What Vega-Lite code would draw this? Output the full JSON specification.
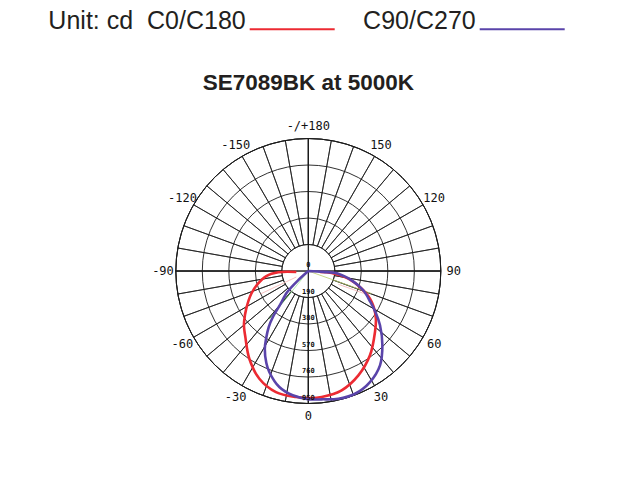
{
  "$schema": "https://vega.github.io/schema/vega-lite/v6.json",
  "autosize": {"type": "none"},
  "padding": {"left": 154.9, "top": 117.6, "right": 166.26, "bottom": 63.56},
  "width": 306.84,
  "height": 306.84,
  "background": "white",
  "title": {"text": "SE7089BK at 5000K", "font": "Liberation Sans", "fontSize": 22.5, "fontWeight": "bold", "color": "#231f20", "anchor": "middle", "baseline": "alphabetic", "offset": -127},
  "config": {"view": {"stroke": null}},
  "layer": [
    {
      "data": {"values": [{"r": 190}, {"r": 380}, {"r": 570}, {"r": 760}, {"r": 950}]},
      "mark": {"type": "arc", "filled": false, "stroke": "#1a1a1a", "strokeWidth": 0.9},
      "encoding": {
        "theta": {"datum": -180, "type": "quantitative", "scale": {"domain": [-180, 180], "reverse": true, "zero": false, "nice": false}},
        "theta2": {"datum": 180},
        "radius": {"field": "r", "type": "quantitative", "stack": null, "scale": {"type": "linear", "domain": [0, 1100], "range": [0, 153.42], "zero": true, "nice": false}}
      }
    },
    {
      "data": {"values": [
        {"a": -180, "b": -170}, {"a": -170, "b": -160}, {"a": -160, "b": -150}, {"a": -150, "b": -140}, {"a": -140, "b": -130}, {"a": -130, "b": -120},
        {"a": -120, "b": -110}, {"a": -110, "b": -100}, {"a": -100, "b": -90}, {"a": -90, "b": -80}, {"a": -80, "b": -70}, {"a": -70, "b": -60},
        {"a": -60, "b": -50}, {"a": -50, "b": -40}, {"a": -40, "b": -30}, {"a": -30, "b": -20}, {"a": -20, "b": -10}, {"a": -10, "b": 0},
        {"a": 0, "b": 10}, {"a": 10, "b": 20}, {"a": 20, "b": 30}, {"a": 30, "b": 40}, {"a": 40, "b": 50}, {"a": 50, "b": 60},
        {"a": 60, "b": 70}, {"a": 70, "b": 80}, {"a": 80, "b": 90}, {"a": 90, "b": 100}, {"a": 100, "b": 110}, {"a": 110, "b": 120},
        {"a": 120, "b": 130}, {"a": 130, "b": 140}, {"a": 140, "b": 150}, {"a": 150, "b": 160}, {"a": 160, "b": 170}, {"a": 170, "b": 180}
      ]},
      "mark": {"type": "arc", "filled": false, "stroke": "#1a1a1a", "strokeWidth": 0.8},
      "encoding": {
        "theta": {"field": "a", "type": "quantitative", "stack": null, "scale": {"domain": [-180, 180], "reverse": true, "zero": false, "nice": false}},
        "theta2": {"field": "b"},
        "radius": {"datum": 950, "type": "quantitative", "scale": {"type": "linear", "domain": [0, 1100], "range": [0, 153.42], "zero": true, "nice": false}},
        "radius2": {"datum": 190}
      }
    },
    {
      "data": {"values": [{"a": -180, "b": -90}, {"a": -90, "b": 0}, {"a": 0, "b": 90}, {"a": 90, "b": 180}]},
      "mark": {"type": "arc", "filled": false, "stroke": "#1a1a1a", "strokeWidth": 0.9},
      "encoding": {
        "theta": {"field": "a", "type": "quantitative", "stack": null, "scale": {"domain": [-180, 180], "reverse": true, "zero": false, "nice": false}},
        "theta2": {"field": "b"},
        "radius": {"datum": 950, "type": "quantitative", "scale": {"type": "linear", "domain": [0, 1100], "range": [0, 153.42], "zero": true, "nice": false}},
        "radius2": {"datum": 0}
      }
    },
    {
      "data": {"values": [{"h": -86, "v": 43, "h2": -344, "v2": 165}, {"h": 215, "v": 95, "h2": 430, "v2": 172}]},
      "mark": {"type": "rule", "stroke": "#f4b3b3", "strokeWidth": 0.8},
      "encoding": {
        "x": {"field": "h", "type": "quantitative", "scale": {"domain": [-1100, 1100], "zero": false, "nice": false}, "axis": null},
        "y": {"field": "v", "type": "quantitative", "scale": {"domain": [-1100, 1100], "zero": false, "nice": false, "reverse": true}, "axis": null},
        "x2": {"field": "h2"},
        "y2": {"field": "v2"}
      }
    },
    {
      "data": {"values": [{"h": 0, "v": 0, "h2": -122, "v2": 151}]},
      "mark": {"type": "rule", "stroke": "#9fe29a", "strokeWidth": 0.8},
      "encoding": {
        "x": {"field": "h", "type": "quantitative"},
        "y": {"field": "v", "type": "quantitative"},
        "x2": {"field": "h2"},
        "y2": {"field": "v2"}
      }
    },
    {
      "data": {"values": [{"h": -122, "v": 151, "h2": -280, "v2": 344}]},
      "mark": {"type": "rule", "stroke": "#2f8a34", "strokeWidth": 0.8},
      "encoding": {
        "x": {"field": "h", "type": "quantitative"},
        "y": {"field": "v", "type": "quantitative"},
        "x2": {"field": "h2"},
        "y2": {"field": "v2"}
      }
    },
    {
      "data": {"values": [{"h": 0, "v": 0, "h2": 452, "v2": 161}]},
      "mark": {"type": "rule", "stroke": "#bccd6a", "strokeWidth": 0.8},
      "encoding": {
        "x": {"field": "h", "type": "quantitative"},
        "y": {"field": "v", "type": "quantitative"},
        "x2": {"field": "h2"},
        "y2": {"field": "v2"}
      }
    },
    {
      "data": {"values": [
        {"plane": "C0/C180", "o": 1, "h": -86, "v": 7},
        {"plane": "C0/C180", "o": 2, "h": -215, "v": 9},
        {"plane": "C0/C180", "o": 3, "h": -301, "v": 36},
        {"plane": "C0/C180", "o": 4, "h": -361, "v": 91},
        {"plane": "C0/C180", "o": 5, "h": -409, "v": 163},
        {"plane": "C0/C180", "o": 6, "h": -445, "v": 270},
        {"plane": "C0/C180", "o": 7, "h": -460, "v": 360},
        {"plane": "C0/C180", "o": 8, "h": -461, "v": 400},
        {"plane": "C0/C180", "o": 9, "h": -452, "v": 470},
        {"plane": "C0/C180", "o": 10, "h": -423, "v": 629},
        {"plane": "C0/C180", "o": 11, "h": -351, "v": 772},
        {"plane": "C0/C180", "o": 12, "h": -232, "v": 868},
        {"plane": "C0/C180", "o": 13, "h": -88, "v": 903},
        {"plane": "C0/C180", "o": 14, "h": 19, "v": 911},
        {"plane": "C0/C180", "o": 15, "h": 96, "v": 903},
        {"plane": "C0/C180", "o": 16, "h": 239, "v": 855},
        {"plane": "C0/C180", "o": 17, "h": 359, "v": 748},
        {"plane": "C0/C180", "o": 18, "h": 442, "v": 604},
        {"plane": "C0/C180", "o": 19, "h": 478, "v": 437},
        {"plane": "C0/C180", "o": 20, "h": 484, "v": 337},
        {"plane": "C0/C180", "o": 21, "h": 455, "v": 222},
        {"plane": "C0/C180", "o": 22, "h": 383, "v": 127},
        {"plane": "C0/C180", "o": 23, "h": 287, "v": 55},
        {"plane": "C0/C180", "o": 24, "h": 168, "v": 14},
        {"plane": "C0/C180", "o": 25, "h": 84, "v": 7},
        {"plane": "C90/C270", "o": 1, "h": 0, "v": 0},
        {"plane": "C90/C270", "o": 2, "h": -74, "v": 67},
        {"plane": "C90/C270", "o": 3, "h": -151, "v": 151},
        {"plane": "C90/C270", "o": 4, "h": -205, "v": 246},
        {"plane": "C90/C270", "o": 5, "h": -254, "v": 330},
        {"plane": "C90/C270", "o": 6, "h": -284, "v": 402},
        {"plane": "C90/C270", "o": 7, "h": -303, "v": 485},
        {"plane": "C90/C270", "o": 8, "h": -312, "v": 559},
        {"plane": "C90/C270", "o": 9, "h": -301, "v": 660},
        {"plane": "C90/C270", "o": 10, "h": -280, "v": 724},
        {"plane": "C90/C270", "o": 11, "h": -208, "v": 832},
        {"plane": "C90/C270", "o": 12, "h": -112, "v": 891},
        {"plane": "C90/C270", "o": 13, "h": 7, "v": 920},
        {"plane": "C90/C270", "o": 14, "h": 96, "v": 920},
        {"plane": "C90/C270", "o": 15, "h": 215, "v": 916},
        {"plane": "C90/C270", "o": 16, "h": 335, "v": 880},
        {"plane": "C90/C270", "o": 17, "h": 442, "v": 796},
        {"plane": "C90/C270", "o": 18, "h": 514, "v": 676},
        {"plane": "C90/C270", "o": 19, "h": 531, "v": 533},
        {"plane": "C90/C270", "o": 20, "h": 514, "v": 389},
        {"plane": "C90/C270", "o": 21, "h": 484, "v": 301},
        {"plane": "C90/C270", "o": 22, "h": 445, "v": 222},
        {"plane": "C90/C270", "o": 23, "h": 394, "v": 138},
        {"plane": "C90/C270", "o": 24, "h": 311, "v": 67},
        {"plane": "C90/C270", "o": 25, "h": 215, "v": 19},
        {"plane": "C90/C270", "o": 26, "h": 108, "v": 6},
        {"plane": "C90/C270", "o": 27, "h": 0, "v": 0}
      ]},
      "mark": {"type": "line", "strokeWidth": 2.6, "interpolate": "catmull-rom"},
      "encoding": {
        "x": {"field": "h", "type": "quantitative"},
        "y": {"field": "v", "type": "quantitative"},
        "order": {"field": "o", "type": "quantitative"},
        "color": {
          "field": "plane", "type": "nominal",
          "scale": {"domain": ["C0/C180", "C90/C270"], "range": ["#ec2a32", "#5a44aa"]},
          "legend": {
            "orient": "none", "legendX": 93.8, "legendY": -132.1, "direction": "horizontal", "title": null,
            "symbolType": "stroke", "symbolSize": 7225, "symbolStrokeWidth": 2,
            "labelFont": "Liberation Sans", "labelFontSize": 25, "labelColor": "#231f20",
            "labelAlign": "right", "labelBaseline": "alphabetic", "labelOffset": -90, "labelLimit": 0,
            "columnPadding": 24, "padding": 0,
            "labelExpr": "datum.label == 'C0/C180' ? 'Unit: cd\u00a0\u00a0C0/C180' : datum.label"
          }
        }
      }
    },
    {
      "data": {"values": [
        {"g": 0, "t": "0"}, {"g": 30, "t": "30"}, {"g": 60, "t": "60"}, {"g": 90, "t": "90"},
        {"g": 120, "t": "120"}, {"g": 150, "t": "150"}, {"g": 180, "t": "-/+180"},
        {"g": -150, "t": "-150"}, {"g": -120, "t": "-120"}, {"g": -90, "t": "-90"}, {"g": -60, "t": "-60"}, {"g": -30, "t": "-30"}
      ]},
      "mark": {"type": "text", "font": "DejaVu Sans Mono", "fontSize": 12, "align": "center", "baseline": "middle", "color": "#111111"},
      "encoding": {
        "theta": {"field": "g", "type": "quantitative", "stack": null, "scale": {"domain": [-180, 180], "reverse": true, "zero": false, "nice": false}},
        "radius": {"datum": 1042, "type": "quantitative", "scale": {"type": "linear", "domain": [0, 1100], "range": [0, 153.42], "zero": true, "nice": false}},
        "text": {"field": "t", "type": "nominal"}
      }
    },
    {
      "data": {"values": [{"v": 0}, {"v": 190}, {"v": 380}, {"v": 570}, {"v": 760}, {"v": 950}]},
      "mark": {"type": "text", "font": "DejaVu Sans Mono", "fontSize": 7, "fontWeight": "bold", "align": "center", "baseline": "middle", "dy": -6, "color": "#111111"},
      "encoding": {
        "theta": {"datum": 0, "type": "quantitative", "scale": {"domain": [-180, 180], "reverse": true, "zero": false, "nice": false}},
        "radius": {"field": "v", "type": "quantitative", "stack": null, "scale": {"type": "linear", "domain": [0, 1100], "range": [0, 153.42], "zero": true, "nice": false}},
        "text": {"field": "v", "type": "quantitative"}
      }
    }
  ]
}
